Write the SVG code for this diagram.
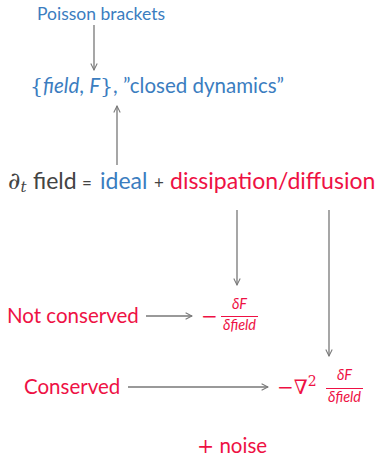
<svg xmlns="http://www.w3.org/2000/svg" width="386" height="458" viewBox="0 0 386 458">
<style>
text{font-family:Lato,"Open Sans",sans-serif}
.b{fill:#3b7dbf}
.r{fill:#ee1144}
.k{fill:#444}
.m{font-family:"DejaVu Serif","Liberation Serif",serif}
.i{font-style:italic}
.e{stroke:#777;stroke-width:1.3;fill:none}
</style>
<defs>
<marker id="ah" viewBox="0 0 10 10" refX="9" refY="5" markerWidth="8" markerHeight="8" markerUnits="userSpaceOnUse" orient="auto">
<path d="M1,1 L9,5 L1,9" fill="none" stroke="#777" stroke-width="1.3"/>
</marker>
</defs>
<g id="poisson"><text class="b" x="37" y="20" font-size="17.5">Poisson brackets</text></g>
<g id="bracket"><text class="b" x="30" y="93" font-size="20.5"><tspan class="m">{</tspan><tspan class="i">field</tspan>, <tspan class="i">F</tspan><tspan class="m">}</tspan>, ”closed dynamics”</text></g>
<g id="equation">
<text class="k m i" x="8" y="189" font-size="24">∂<tspan font-size="15" dy="3">t</tspan></text>
<text class="k" x="33" y="189" font-size="23">field</text>
<text class="k" x="82" y="189" font-size="17">=</text>
<text class="b" x="100" y="189" font-size="23">ideal</text>
<text class="k" x="154" y="189" font-size="17">+</text>
<text class="r" x="170" y="189" font-size="23">dissipation/diffusion</text>
</g>
<g id="notconserved"><text class="r" x="7" y="323" font-size="20.5">Not conserved</text></g>
<g id="nc-expr">
<text class="r m" x="201" y="323" font-size="20">−</text>
<text class="r i" x="239.5" y="309" font-size="14.5" text-anchor="middle">δF</text>
<line x1="221" y1="316.5" x2="258" y2="316.5" stroke="#ee1144" stroke-width="1"/>
<text class="r i" x="239.5" y="330" font-size="14.5" text-anchor="middle">δfield</text>
</g>
<g id="conserved"><text class="r" x="24" y="394" font-size="20.5">Conserved</text></g>
<g id="c-expr">
<text class="r m" x="277" y="394" font-size="20">−∇<tspan font-size="14" dy="-8">2</tspan></text>
<text class="r i" x="344.5" y="380" font-size="14.5" text-anchor="middle">δF</text>
<line x1="326" y1="388.5" x2="363" y2="388.5" stroke="#ee1144" stroke-width="1"/>
<text class="r i" x="344.5" y="402" font-size="14.5" text-anchor="middle">δfield</text>
</g>
<g id="noise"><text class="r" x="197" y="453" font-size="20.5"><tspan class="m">+</tspan> noise</text></g>
<g id="connectors">
<line class="e" x1="94" y1="25" x2="94" y2="70" marker-end="url(#ah)"/>
<line class="e" x1="117" y1="165" x2="117" y2="106" marker-end="url(#ah)"/>
<line class="e" x1="237" y1="210" x2="237" y2="285" marker-end="url(#ah)"/>
<line class="e" x1="329" y1="210" x2="329" y2="356" marker-end="url(#ah)"/>
<line class="e" x1="146" y1="316" x2="192" y2="316" marker-end="url(#ah)"/>
<line class="e" x1="128" y1="387" x2="268" y2="387" marker-end="url(#ah)"/>
</g>
</svg>
